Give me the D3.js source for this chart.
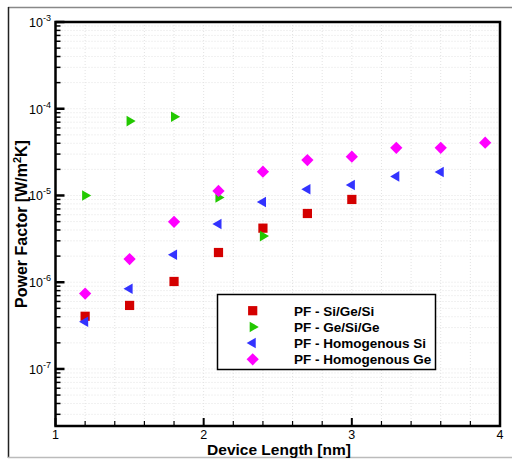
<!DOCTYPE html>
<html>
<head>
<meta charset="utf-8">
<script src="https://cdn.jsdelivr.net/npm/d3@7"></script>
<style>
  body { margin: 0; background: #fff; }
  svg { display: block; font-family: "Liberation Sans", Arial, sans-serif; }
</style>
</head>
<body>
<svg id="chart" width="512" height="459"></svg>
<script>
// ------------------------------------
// Data
// ------------------------------------
const siGeSiX = [1.2, 1.5, 1.8, 2.1, 2.4, 2.7, 3.0];
const siGeSiY = [4.05e-7, 5.4e-7, 1.02e-6, 2.2e-6, 4.2e-6, 6.2e-6, 9.0e-6];

const geSiGeX = [1.2, 1.5, 1.8, 2.1, 2.4];
const geSiGeY = [1.0e-5, 7.2e-5, 8.1e-5, 9.5e-6, 3.4e-6];

const homSiX = [1.2, 1.5, 1.8, 2.1, 2.4, 2.7, 3.0, 3.3, 3.6];
const homSiY = [3.5e-7, 8.4e-7, 2.07e-6, 4.7e-6, 8.4e-6, 1.18e-5, 1.32e-5, 1.66e-5, 1.86e-5];

const homGeX = [1.2, 1.5, 1.8, 2.1, 2.4, 2.7, 3.0, 3.3, 3.6, 3.9];
const homGeY = [7.4e-7, 1.85e-6, 4.97e-6, 1.13e-5, 1.88e-5, 2.56e-5, 2.8e-5, 3.55e-5, 3.55e-5, 4.06e-5];

const xTickLabels = [1, 2, 3, 4];
const yDecades = [-3, -4, -5, -6, -7];

const series = [
  { name: "PF - Si/Ge/Si", xs: siGeSiX, ys: siGeSiY, color: "#d40000", shape: "square" },
  { name: "PF - Ge/Si/Ge", xs: geSiGeX, ys: geSiGeY, color: "#22c800", shape: "right" },
  { name: "PF - Homogenous Si", xs: homSiX, ys: homSiY, color: "#3333ff", shape: "left" },
  { name: "PF - Homogenous Ge", xs: homGeX, ys: homGeY, color: "#ff00ff", shape: "diamond" }
];

// ------------------------------------
// Layout
// ------------------------------------
const svg = d3.select("#chart");
const pLeft = 55.5, pRight = 500, pTop = 22, pBottom = 426;

const x = d3.scaleLinear().domain([1, 4]).range([pLeft, pRight]);
const y = d3.scaleLog().domain([1e-3, 2.2e-8]).range([pTop, pBottom]);

// outer frame
svg.append("line").attr("x1", 8).attr("x2", 512).attr("y1", 7.5).attr("y2", 7.5)
  .attr("stroke", "#888").attr("stroke-width", 1.5);
svg.append("line").attr("x1", 8.5).attr("x2", 8.5).attr("y1", 7).attr("y2", 458)
  .attr("stroke", "#222").attr("stroke-width", 1.5);
svg.append("line").attr("x1", 8).attr("x2", 512).attr("y1", 457.5).attr("y2", 457.5)
  .attr("stroke", "#bbb").attr("stroke-width", 1.5);

// ------------------------------------
// Ticks & grid
// ------------------------------------
const xMinor = d3.range(1, 4.001, 0.2).map(v => +v.toFixed(1));
const yAll = [];
yDecades.forEach(e => {
  for (let m = 1; m <= 9; m++) {
    const v = m * Math.pow(10, e - 1);
    if (v >= 2.2e-8 && v <= 1e-3) yAll.push({ v, major: m === 1 });
  }
});
yAll.push({ v: 1e-3, major: true });

const grid = svg.append("g").attr("stroke", "#e2e2e2").attr("stroke-width", 1)
  .attr("stroke-dasharray", "1,2");
xMinor.slice(1, -1).forEach(v => {
  grid.append("line").attr("x1", x(v)).attr("x2", x(v)).attr("y1", pTop).attr("y2", pBottom);
});
yAll.forEach(d => {
  grid.append("line").attr("x1", pLeft).attr("x2", pRight).attr("y1", y(d.v)).attr("y2", y(d.v));
});

const ticks = svg.append("g").attr("stroke", "#000");
xMinor.forEach(v => {
  const major = Math.abs(v - Math.round(v)) < 1e-6;
  ticks.append("line").attr("x1", x(v)).attr("x2", x(v))
    .attr("y1", pBottom).attr("y2", pBottom - (major ? 8 : 5))
    .attr("stroke-width", major ? 2 : 1.2);
});
yAll.forEach(d => {
  ticks.append("line").attr("x1", pLeft).attr("x2", pLeft + (d.major ? 9 : 5))
    .attr("y1", y(d.v)).attr("y2", y(d.v))
    .attr("stroke-width", d.major ? 2.5 : 1.5);
});

// axis box
svg.append("rect").attr("x", pLeft).attr("y", pTop)
  .attr("width", pRight - pLeft).attr("height", pBottom - pTop)
  .attr("fill", "none").attr("stroke", "#000").attr("stroke-width", 2.5);

// tick labels
svg.append("g").selectAll("text").data(xTickLabels).join("text")
  .attr("x", d => x(d)).attr("y", pBottom + 12.5)
  .attr("text-anchor", "middle").attr("font-size", 12.5)
  .text(d => d);

const yl = svg.append("g").selectAll("text").data(yDecades).join("text")
  .attr("x", 51).attr("y", d => y(Math.pow(10, d)) + 5)
  .attr("text-anchor", "end").attr("font-size", 12.5);
yl.append("tspan").text("10");
yl.append("tspan").attr("dy", -6).attr("font-size", 9).text(d => "-" + (-d));

// axis titles
svg.append("text").attr("x", 279).attr("y", 454.5)
  .attr("text-anchor", "middle").attr("font-size", 15.5).attr("font-weight", "bold")
  .text("Device Length [nm]");
const yt = svg.append("text")
  .attr("transform", "translate(27,224) rotate(-90)")
  .attr("text-anchor", "middle").attr("font-size", 16).attr("font-weight", "bold");
yt.append("tspan").text("Power Factor [W/m");
yt.append("tspan").attr("dy", -6).attr("font-size", 11).text("2");
yt.append("tspan").attr("dy", 6).text("K]");

// ------------------------------------
// Markers
// ------------------------------------
const shapes = {
  square: { type: d3.symbolSquare, size: 85, rot: 0 },
  right: { type: d3.symbolTriangle, size: 48, rot: 90 },
  left: { type: d3.symbolTriangle, size: 48, rot: -90 },
  diamond: { type: d3.symbolSquare, size: 75, rot: 45 }
};
function marker(g, shape, cx, cy, color) {
  const s = shapes[shape];
  g.append("path")
    .attr("d", d3.symbol().type(s.type).size(s.size)())
    .attr("transform", `translate(${cx},${cy}) rotate(${s.rot})`)
    .attr("fill", color);
}

const marks = svg.append("g");
series.forEach(s => {
  s.xs.forEach((xv, i) => marker(marks, s.shape, x(xv), y(s.ys[i]), s.color));
});

// ------------------------------------
// Legend
// ------------------------------------
const lg = svg.append("g");
lg.append("rect").attr("x", 217.5).attr("y", 294.5).attr("width", 218).attr("height", 75)
  .attr("fill", "#fff").attr("stroke", "#000").attr("stroke-width", 1.5);
series.forEach((s, i) => {
  const ry = 310.7 + i * 16.2;
  marker(lg, s.shape, 252.7, ry, s.color);
  lg.append("text").attr("x", 294).attr("y", ry + 5)
    .attr("font-size", 13.5).attr("font-weight", "bold").text(s.name);
});
</script>
</body>
</html>
